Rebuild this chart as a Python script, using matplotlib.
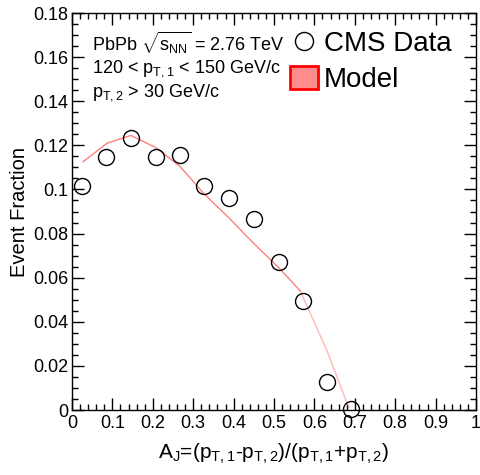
import matplotlib
matplotlib.use('Agg')
import matplotlib.pyplot as plt
from matplotlib.lines import Line2D
from matplotlib.patches import Patch
from matplotlib.ticker import MultipleLocator, FuncFormatter

plt.rcParams['font.family'] = 'Liberation Sans'
plt.rcParams['mathtext.fontset'] = 'custom'
plt.rcParams['mathtext.rm'] = 'Liberation Sans'
plt.rcParams['mathtext.it'] = 'Liberation Sans'

# CMS data (A_J bins)
aj_data = [0.025, 0.085, 0.146, 0.207, 0.267, 0.327, 0.389, 0.450, 0.512, 0.572, 0.631, 0.691]
frac_data = [0.1015, 0.1147, 0.1234, 0.1147, 0.1156, 0.1016, 0.0961, 0.0866, 0.0670, 0.0494, 0.0127, 0.0003]

# model curve
aj_model = [0.027, 0.087, 0.146, 0.207, 0.267, 0.327, 0.389, 0.450, 0.512, 0.565, 0.631, 0.685]
frac_model = [0.1125, 0.1210, 0.1245, 0.1190, 0.1105, 0.0980, 0.0870, 0.0755, 0.0645, 0.0540, 0.0270, 0.0010]


def fmt(v, pos):
    return '%g' % round(v, 4)


fig = plt.figure(figsize=(4.8, 4.75), dpi=100)
ax = fig.add_axes([0.15, 0.1368, 0.8417, 0.8358])

# model: solid part, then the fainter tail
ax.plot(aj_model[:10], frac_model[:10], '-', color='#ff6060', lw=1.0, alpha=0.8, zorder=2)
ax.plot(aj_model[9:], frac_model[9:], '-', color='#ff6060', lw=1.0, alpha=0.45, zorder=2)
ax.plot(aj_data, frac_data, 'o', ms=11.5, mfc='none', mec='black', mew=1.0, zorder=3, clip_on=False)

ax.set_xlim(0, 1)
ax.set_ylim(0, 0.18)
ax.xaxis.set_major_locator(MultipleLocator(0.1))
ax.xaxis.set_minor_locator(MultipleLocator(0.02))
ax.yaxis.set_major_locator(MultipleLocator(0.02))
ax.yaxis.set_minor_locator(MultipleLocator(0.005))
ax.xaxis.set_major_formatter(FuncFormatter(fmt))
ax.yaxis.set_major_formatter(FuncFormatter(fmt))
ax.tick_params(which='both', direction='in', top=True, right=True, labelsize=13, width=1)
ax.tick_params(which='major', length=8.5)
ax.tick_params(which='minor', length=4.3)
ax.tick_params(axis='x', pad=3.5)
ax.tick_params(axis='y', pad=2.5)
for s in ax.spines.values():
    s.set_linewidth(1)

ax.set_ylabel('Event Fraction', fontsize=14.5)
ax.yaxis.set_label_coords(-0.106, 0.50)
ax.set_xlabel(r'A$_{J}$=(p$_{T,1}$-p$_{T,2}$)/(p$_{T,1}$+p$_{T,2}$)', fontsize=15)
ax.xaxis.set_label_coords(0.5, -0.08)

ax.text(0.05, 0.905, r'PbPb $\sqrt{\mathrm{s}_{NN}}$ = 2.76 TeV', transform=ax.transAxes, fontsize=13)
ax.text(0.05, 0.85, r'120 < p$_{T,1}$ < 150 GeV/c', transform=ax.transAxes, fontsize=13)
ax.text(0.05, 0.79, r'p$_{T,2}$ > 30 GeV/c', transform=ax.transAxes, fontsize=13)

handles = [
    Line2D([], [], ls='none', marker='o', ms=13, mfc='none', mec='black', mew=1.0),
    Patch(facecolor='#ff8c8c', edgecolor='red', lw=2),
]
ax.legend(handles, ['CMS Data', 'Model'], loc='upper left', bbox_to_anchor=(0.513, 0.985),
          frameon=False, fontsize=20, handlelength=1.0, handleheight=0.9,
          handletextpad=0.2, labelspacing=0.33, borderaxespad=0)

fig.savefig('out.png', dpi=100)
